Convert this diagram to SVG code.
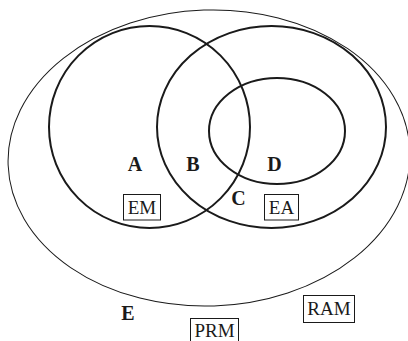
<svg xmlns="http://www.w3.org/2000/svg" width="408" height="341" viewBox="0 0 408 341">
  <style>
    .set { fill: none; stroke: #1a1a1a; stroke-width: 2; }
    .outer { fill: none; stroke: #1a1a1a; stroke-width: 1; }
    .region { font-family: "Liberation Serif", "Times New Roman", serif; font-weight: bold; font-size: 20px; fill: #1a1a1a; text-anchor: middle; }
    .tag { font-family: "Liberation Serif", "Times New Roman", serif; font-size: 19px; fill: #1a1a1a; text-anchor: middle; }
    .tagbox { fill: none; stroke: #1a1a1a; stroke-width: 1; }
  </style>
  <rect width="408" height="341" fill="#ffffff"/>

  <!-- outer universe: RAM -->
  <g id="ram">
    <ellipse class="outer" cx="209" cy="158" rx="201" ry="148" transform="rotate(-2 209 158)"/>
    <rect class="tagbox" x="303.5" y="295.5" width="51" height="27"/>
    <text class="tag" x="329" y="315">RAM</text>
  </g>

  <!-- EM set -->
  <g id="em">
    <ellipse class="set" cx="149.5" cy="127" rx="100.5" ry="101"/>
    <rect class="tagbox" x="123.5" y="194.5" width="37" height="25.5"/>
    <text class="tag" x="142" y="214">EM</text>
  </g>

  <!-- EA set -->
  <g id="ea">
    <ellipse class="set" cx="271.5" cy="127" rx="114.5" ry="101"/>
    <rect class="tagbox" x="264.5" y="194.5" width="34" height="25.5"/>
    <text class="tag" x="281.5" y="214">EA</text>
  </g>

  <!-- inner subset -->
  <g id="inner">
    <ellipse class="set" cx="277" cy="131" rx="68" ry="53"/>
  </g>

  <!-- PRM tag -->
  <g id="prm">
    <rect class="tagbox" x="190.5" y="318.5" width="48" height="28"/>
    <text class="tag" x="214.5" y="337">PRM</text>
  </g>

  <!-- region letters -->
  <g id="regions">
    <text class="region" x="135" y="170.5">A</text>
    <text class="region" x="193" y="170.5">B</text>
    <text class="region" x="238.5" y="205">C</text>
    <text class="region" x="274.5" y="170.5">D</text>
    <text class="region" x="128" y="320">E</text>
  </g>

  <g id="connectors"/>
</svg>
